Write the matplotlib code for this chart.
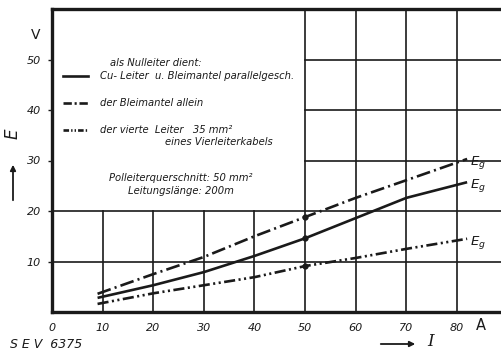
import matplotlib
matplotlib.use("Agg")
import matplotlib.pyplot as plt

plt.rcParams['font.family'] = ['DejaVu Sans']
plt.rcParams['lines.scale_dashes'] = False

# Data (I in A, E in V)
I_vals = [9, 20, 30, 40, 50, 60, 70, 82]
E_cu_blei = [2.8, 5.3, 7.9, 11.1, 14.6, 18.6, 22.6, 25.7]   # solid
E_blei = [3.6, 7.5, 10.9, 15.0, 18.8, 22.6, 26.1, 30.3]      # dash-dot
E_vierte = [1.6, 3.7, 5.3, 6.9, 9.1, 10.7, 12.5, 14.5]       # dash-dot-dot
x_ticks = [0, 10, 20, 30, 40, 50, 60, 70, 80]
y_ticks = [10, 20, 30, 40, 50]
mark_I = 50

fig = plt.figure(figsize=(5.02, 3.52), dpi=100)
ax = fig.add_axes([52/502, 1-312/352, 1-52/502, 303/352])
ax.set_xlim(0, 450/5.0625)
ax.set_ylim(0, 303/5.05)

col = '#1a1a1a'
lw = 1.9
glw = 1.2
# grid
for x in [10, 20, 30, 40]:
    ax.plot([x, x], [0, 20], color=col, lw=glw, zorder=1)
for x in [50, 60, 70, 80]:
    ax.plot([x, x], [0, 60], color=col, lw=glw, zorder=1)
for y in [10, 20]:
    ax.plot([0, 90], [y, y], color=col, lw=glw, zorder=1)
for y in [30, 40, 50]:
    ax.plot([50, 90], [y, y], color=col, lw=glw, zorder=1)

dd = (10, 3, 1.5, 3)
ddd = (8, 2.5, 1.5, 2.5, 1.5, 2.5)
ax.plot(I_vals, E_cu_blei, color=col, lw=lw, solid_capstyle='butt', solid_joinstyle='round', zorder=3)
l2, = ax.plot(I_vals, E_blei, color=col, lw=lw, zorder=3)
l2.set_dashes(dd)
l3, = ax.plot(I_vals, E_vierte, color=col, lw=lw, zorder=3)
l3.set_dashes(ddd)

# marks at I = 50
idx = I_vals.index(mark_I)
ax.plot([mark_I]*3, [E_cu_blei[idx], E_blei[idx], E_vierte[idx]], 'o', color=col, ms=3.5, zorder=4)

# end labels
for ser in (E_blei, E_cu_blei, E_vierte):
    ax.text(I_vals[-1] + 0.5, ser[-1] - 0.7, r'$E_g$', fontsize=9.5, color=col, va='center', ha='left')

# spines
for s in ['top', 'left', 'bottom']:
    ax.spines[s].set_linewidth(2.4)
    ax.spines[s].set_color(col)
ax.spines['right'].set_visible(False)

ax.set_xticks(x_ticks)
ax.set_xticklabels([str(v) for v in x_ticks], fontstyle='italic', fontsize=8, color=col)
ax.set_yticks(y_ticks)
ax.set_yticklabels([str(v) for v in y_ticks], fontstyle='italic', fontsize=8, color=col)
ax.tick_params(axis='x', length=0, pad=8)
ax.tick_params(axis='y', length=3, width=1, pad=5, color=col)

# legend-like annotations
tkw = dict(fontstyle='italic', fontsize=7.2, color=col)
ax.text(20.5, 49.4, 'als Nulleiter dient:', ha='center', va='center', **tkw)
ax.plot([2.2, 7.1], [46.8, 46.8], color=col, lw=lw)
ax.text(9.5, 46.8, 'Cu- Leiter  u. Bleimantel parallelgesch.', ha='left', va='center', **tkw)
lg2, = ax.plot([2.2, 7.1], [41.3, 41.3], color=col, lw=lw)
lg2.set_dashes((6, 2, 1.5, 2))
ax.text(9.5, 41.3, 'der Bleimantel allein', ha='left', va='center', **tkw)
lg3, = ax.plot([2.2, 7.1], [36.0, 36.0], color=col, lw=lw)
lg3.set_dashes((4, 1.5, 1, 1.5, 1, 1.5))
ax.text(9.5, 36.0, 'der vierte  Leiter   35 mm²', ha='left', va='center', **tkw)
ax.text(22.3, 33.6, 'eines Vierleiterkabels', ha='left', va='center', **tkw)
ax.text(25.5, 26.5, 'Polleiterquerschnitt: 50 mm²', ha='center', va='center', **tkw)
ax.text(25.5, 24.0, 'Leitungslänge: 200m', ha='center', va='center', **tkw)

# axis labels
fig.text(36/502, 1-35/352, 'V', fontsize=10, ha='center', va='center', color=col)
fig.text(481/502, 1-325/352, 'A', fontsize=10.5, ha='center', va='center', color=col)
fig.text(13/502, 1-134/352, 'E', fontsize=12, fontstyle='italic', rotation=90, ha='center', va='center', color=col)
fig.add_artist(matplotlib.patches.FancyArrowPatch((13/502, 1-203/352), (13/502, 1-162/352),
               transform=fig.transFigure, arrowstyle='-|>', mutation_scale=8, lw=1.3, color=col))
fig.add_artist(matplotlib.patches.FancyArrowPatch((378/502, 1-344/352), (418/502, 1-344/352),
               transform=fig.transFigure, arrowstyle='-|>', mutation_scale=8, lw=1.3, color=col))
fig.text(431/502, 1-342/352, 'I', fontsize=12, fontstyle='italic', ha='center', va='center', color=col,
         family='DejaVu Serif')
fig.text(10/502, 1-344/352, 'S E V  6375', fontsize=9, fontstyle='italic', ha='left', va='center', color=col)

fig.savefig('out.png', dpi=100, facecolor='white')
